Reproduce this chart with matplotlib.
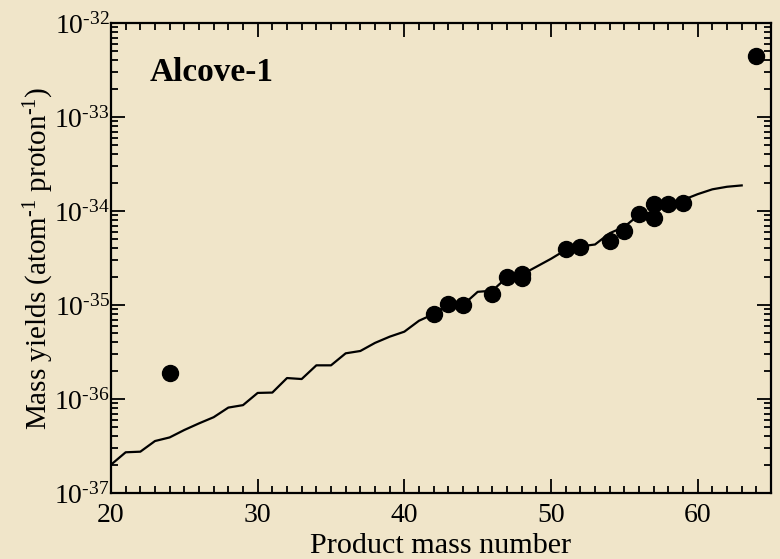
import matplotlib
matplotlib.use("Agg")
import matplotlib.pyplot as plt
from matplotlib.ticker import LogLocator, MultipleLocator, NullFormatter, FixedLocator

plt.rcParams['font.family'] = ['Liberation Serif', 'DejaVu Serif']
plt.rcParams['mathtext.fontset'] = 'custom'
plt.rcParams['mathtext.rm'] = 'Liberation Serif'
plt.rcParams['mathtext.it'] = 'Liberation Serif:italic'
plt.rcParams['mathtext.bf'] = 'Liberation Serif:bold'

# measured mass yields (points)
meas_mass = [24, 42, 43, 44, 46, 47, 48, 48, 51, 52, 54, 55, 56, 57, 57, 58, 59, 64]
meas_yield = [1.89e-36, 8.0e-36, 1.02e-35, 1.0e-35, 1.31e-35, 1.97e-35, 2.14e-35, 1.95e-35,
              3.9e-35, 4.1e-35, 4.8e-35, 6.1e-35, 9.2e-35, 1.19e-34, 8.4e-35, 1.19e-34,
              1.21e-34, 4.5e-33]

# calculated curve
calc_mass = [20, 21, 22, 23, 24, 25, 26, 27, 28, 29, 30, 31, 32, 33, 34, 35, 36, 37, 38, 39,
             40, 41, 42, 43, 44, 45, 46, 47, 48, 49, 50, 51, 52, 53, 54, 55, 56, 57, 58, 59,
             60, 61, 62, 63]
calc_yield = [2.0e-37, 2.71e-37, 2.75e-37, 3.57e-37, 3.9e-37, 4.68e-37, 5.5e-37, 6.4e-37,
              8.1e-37, 8.6e-37, 1.16e-36, 1.17e-36, 1.67e-36, 1.63e-36, 2.28e-36, 2.28e-36,
              3.06e-36, 3.24e-36, 3.95e-36, 4.6e-36, 5.2e-36, 6.8e-36, 8.0e-36, 1.02e-35,
              1.0e-35, 1.38e-35, 1.42e-35, 1.97e-35, 2.1e-35, 2.55e-35, 3.1e-35, 3.85e-35,
              4.2e-35, 4.4e-35, 5.8e-35, 6.8e-35, 9.1e-35, 9.8e-35, 1.16e-34, 1.31e-34,
              1.51e-34, 1.7e-34, 1.81e-34, 1.87e-34]

x_ticks = [20, 30, 40, 50, 60]
x_ticklabels = ['20', '30', '40', '50', '60']
y_ticks = [1e-37, 1e-36, 1e-35, 1e-34, 1e-33, 1e-32]
y_ticklabels = [r'10$^{\text{-37}}$', r'10$^{\text{-36}}$', r'10$^{\text{-35}}$',
                r'10$^{\text{-34}}$', r'10$^{\text{-33}}$', r'10$^{\text{-32}}$']

bg = '#f0e5c9'
fig = plt.figure(figsize=(7.8, 5.59), dpi=100, facecolor=bg)
ax = fig.add_axes([0.1423, 0.1181, 0.8462, 0.8408], facecolor=bg)

ax.plot(calc_mass, calc_yield, color='black', lw=1.6, zorder=2)
ax.plot(meas_mass, meas_yield, 'o', color='black', ms=11.5, zorder=3)

ax.set_yscale('log')
ax.set_xlim(20, 65)
ax.set_ylim(1e-37, 1e-32)

ax.xaxis.set_major_locator(FixedLocator(x_ticks))
ax.set_xticklabels(x_ticklabels)
ax.xaxis.set_minor_locator(MultipleLocator(1))
ax.yaxis.set_major_locator(FixedLocator(y_ticks))
ax.set_yticklabels(y_ticklabels)
ax.yaxis.set_minor_locator(LogLocator(base=10, subs=range(2, 10), numticks=20))
ax.yaxis.set_minor_formatter(NullFormatter())

ax.tick_params(which='both', direction='in', top=True, right=True, width=1.3,
               labelsize=20, colors='black')
ax.tick_params(axis='x', which='major', pad=7.5)
ax.tick_params(axis='y', which='major', pad=1)
ax.tick_params(which='major', length=10)
ax.tick_params(which='minor', length=5)
for s in ax.spines.values():
    s.set_linewidth(1.6)

ax.set_xlabel('Product mass number', fontsize=21.7, labelpad=3)
ax.set_ylabel(r'Mass yields (atom$^{\text{-1}}$ proton$^{\text{-1}}$)', fontsize=21)
ax.yaxis.set_label_coords(-0.083, 0.5)

ax.text(0.059, 0.894, 'Alcove-1', transform=ax.transAxes, fontsize=24,
        fontweight='bold', ha='left', va='center')

fig.savefig('out.png', dpi=100, facecolor=bg)
